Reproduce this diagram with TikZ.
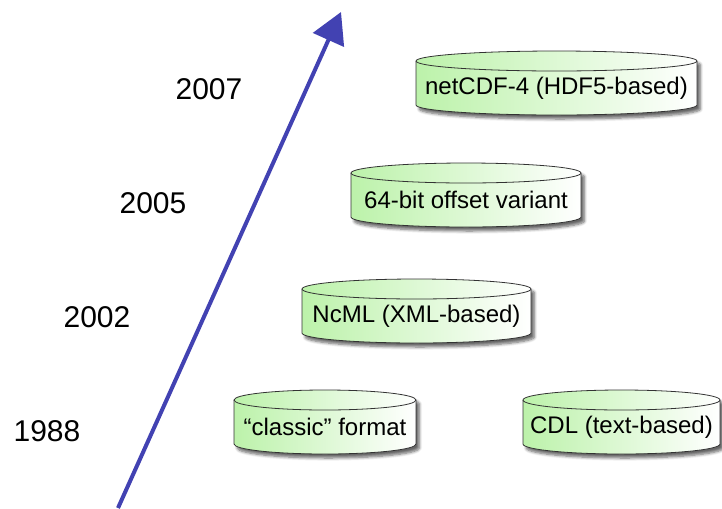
\documentclass[tikz,border=0pt]{standalone}
\usepackage{fontspec}
\setmainfont{Liberation Sans}
\usetikzlibrary{arrows.meta,shadows.blur}

\definecolor{cylgreen}{RGB}{188,242,170}
\definecolor{axisblue}{RGB}{66,66,178}

\tikzset{
  cylbody/.style={draw=black!80,line width=0.6pt,left color=cylgreen,right color=white,
    blur shadow={shadow xshift=2.5pt,shadow yshift=-3pt,shadow opacity=60,shadow blur steps=6}},
  cylline/.style={draw=black!80,line width=0.6pt},
  cyltext/.style={inner sep=0pt,font=\fontsize{18}{22}\selectfont},
  yeartext/.style={inner sep=0pt,font=\fontsize{22.5}{27}\selectfont}
}

% Hình trụ: tên, trái, phải, y đỉnh, nội dung
\newcommand{\dbcyl}[5]{%
  \pgfmathsetmacro{\rx}{(#3-#2)/2}
  \path[cylbody] (#2,#4) -- (#2,#4-44) arc[start angle=180,end angle=360,x radius=\rx,y radius=10]
    -- (#3,#4) arc[start angle=0,end angle=180,x radius=\rx,y radius=10] -- cycle;
  \draw[cylline] (#2,#4) arc[start angle=180,end angle=360,x radius=\rx,y radius=10];
  \node[cyltext] (#1) at ({(#2+#3)/2},#4-27) {#5};
}

\begin{document}
\begin{tikzpicture}[x=0.75pt,y=0.75pt,line join=round,>=stealth]

	% Khung
	\useasboundingbox (0,0) rectangle (722,-508);

	% Trục thời gian
	\coordinate (tstart) at (118,-508);
	\coordinate (tend) at (341,-12);
	\draw[axisblue,line width=3pt,-{Triangle[length=23pt,width=25pt]}] (tstart) -- (tend);

	% Các năm
	\node[yeartext] (y2007) at (209,-89) {2007};
	\node[yeartext] (y2005) at (153,-203) {2005};
	\node[yeartext] (y2002) at (97,-317) {2002};
	\node[yeartext] (y1988) at (47,-431) {1988};

	% Các định dạng
	\dbcyl{nc4}{416}{697}{-61}{netCDF-4 (HDF5-based)}
	\dbcyl{off64}{351}{581}{-173}{64-bit offset variant}
	\dbcyl{ncml}{302}{531}{-289}{NcML (XML-based)}
	\dbcyl{classic}{234}{416}{-400}{``classic'' format}
	\dbcyl{cdl}{523}{720}{-400}{CDL (text-based)}

\end{tikzpicture}
\end{document}
